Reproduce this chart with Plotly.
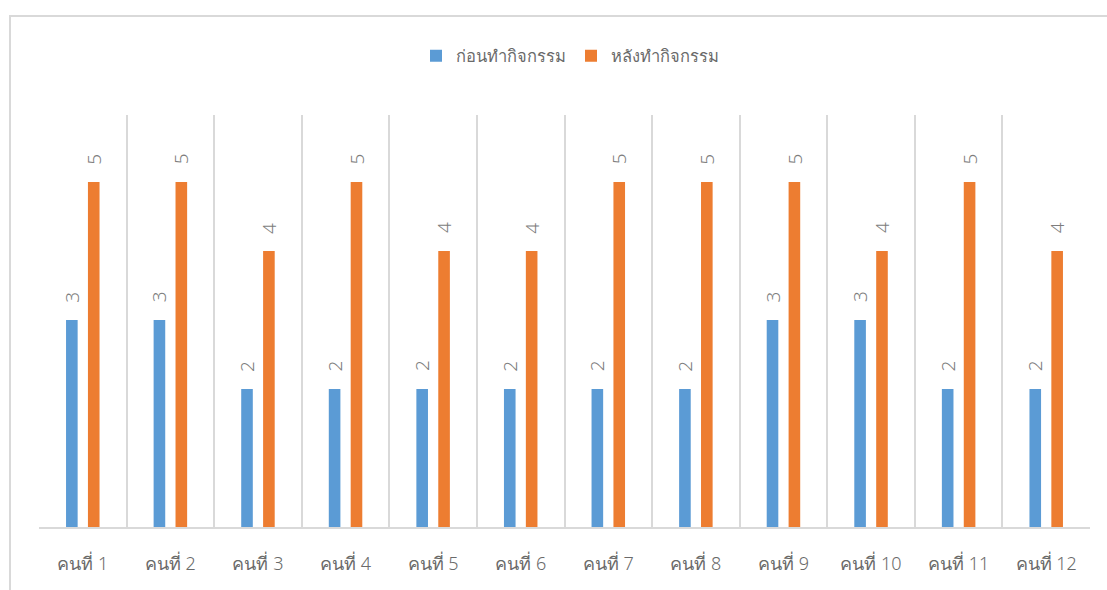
import plotly.graph_objects as go

categories = ["คนที่ 1", "คนที่ 2", "คนที่ 3", "คนที่ 4", "คนที่ 5", "คนที่ 6",
              "คนที่ 7", "คนที่ 8", "คนที่ 9", "คนที่ 10", "คนที่ 11", "คนที่ 12"]
before = [3, 3, 2, 2, 2, 2, 2, 2, 3, 3, 2, 2]
after = [5, 5, 4, 5, 4, 4, 5, 5, 5, 4, 5, 4]
series_names = ["ก่อนทำกิจกรรม", "หลังทำกิจกรรม"]

W, H = 1107, 590
L, R, T, B = 39, 17, 115, 63
pw, ph = W - L - R, H - T - B

font_fam = "Noto Sans, DejaVu Sans, sans-serif"
gray = "#6a6a6a"

fig = go.Figure()
fig.add_trace(go.Bar(x=categories, y=before, name=series_names[0],
                     marker=dict(color="#5b9bd5", line=dict(width=0))))
fig.add_trace(go.Bar(x=categories, y=after, name=series_names[1],
                     marker=dict(color="#ed7d31", line=dict(width=0))))

# data labels, rotated, above each bar
for vals, xs in ((before, -11), (after, 11)):
    for c, v in zip(categories, vals):
        fig.add_annotation(x=c, y=v, text=str(v), showarrow=False,
                           textangle=-90, xshift=xs, yshift=23,
                           xanchor="center", yanchor="middle",
                           font=dict(size=19, color="#7d7d7d", family=font_fam,
                                     weight=300))

# chart-area border (extends past the right and bottom edges)
fig.add_shape(type="rect", xref="paper", yref="paper",
              x0=(10 - L) / pw, x1=(W + 20 - L) / pw,
              y0=-(H + 20 - T - ph) / ph, y1=(H - B - 16) / ph,
              line=dict(color="#d9d9d9", width=2), fillcolor="rgba(0,0,0,0)",
              layer="below")

fig.update_layout(
    width=W, height=H,
    margin=dict(l=L, r=R, t=T, b=B, pad=0),
    paper_bgcolor="white", plot_bgcolor="white",
    barmode="group", bargap=0.5, bargroupgap=0.47,
    font=dict(family=font_fam, color=gray),
    showlegend=True,
    legend=dict(orientation="h", x=(570 - L) / pw, xanchor="center",
                y=1 + (T - 56) / ph, yanchor="middle",
                font=dict(size=16.5, color=gray, weight=300), itemwidth=30,
                traceorder="normal"),
    xaxis=dict(type="category", tickson="boundaries", showgrid=True,
               gridcolor="#d9d9d9", gridwidth=2, ticks="",
               showline=True, linecolor="#d9d9d9", linewidth=2,
               tickfont=dict(size=18, color=gray, family=font_fam, weight=300),
               ticklabelstandoff=19, range=[-0.5, 11.5]),
    yaxis=dict(range=[0, 5.97], visible=False, showgrid=False, zeroline=False),
)

fig.write_html("out.html")
